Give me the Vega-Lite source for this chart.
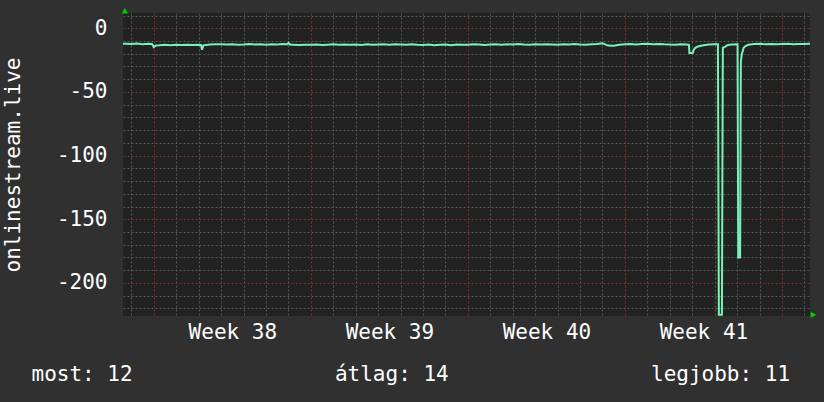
{
  "$schema": "https://vega.github.io/schema/vega-lite/v6.json",
  "width": 687,
  "height": 303,
  "autosize": {"type": "none"},
  "padding": {"left": 123, "top": 13, "right": 14, "bottom": 86},
  "background": "#303030",
  "config": {
    "font": "DejaVu Sans Mono",
    "view": {"fill": "#222222", "stroke": null},
    "axis": {
      "labelFont": "DejaVu Sans Mono",
      "titleFont": "DejaVu Sans Mono",
      "labelColor": "#ffffff",
      "titleColor": "#ffffff",
      "labelFontSize": 21,
      "titleFontSize": 21,
      "titleFontWeight": "normal",
      "ticks": false,
      "domain": false,
      "gridDash": [2, 2],
      "gridWidth": 1,
      "labelOverlap": false,
      "labelFlush": false,
      "tickCount": 1000
    }
  },
  "layer": [
    {
      "data": {
        "values": [
          {"t": "2024-09-14T12:00:00Z", "v": -12.3},
          {"t": "2024-09-14T18:00:00Z", "v": -12.1},
          {"t": "2024-09-15T00:00:00Z", "v": -12.4},
          {"t": "2024-09-15T06:00:00Z", "v": -12.0},
          {"t": "2024-09-15T12:00:00Z", "v": -12.5},
          {"t": "2024-09-15T18:00:00Z", "v": -12.2},
          {"t": "2024-09-15T22:00:00Z", "v": -12.4},
          {"t": "2024-09-16T00:00:00Z", "v": -14.8},
          {"t": "2024-09-16T02:00:00Z", "v": -13.5},
          {"t": "2024-09-16T06:00:00Z", "v": -13.4},
          {"t": "2024-09-16T12:00:00Z", "v": -13.0},
          {"t": "2024-09-16T18:00:00Z", "v": -13.3},
          {"t": "2024-09-17T00:00:00Z", "v": -13.0},
          {"t": "2024-09-17T06:00:00Z", "v": -13.2},
          {"t": "2024-09-17T12:00:00Z", "v": -12.9},
          {"t": "2024-09-17T18:00:00Z", "v": -13.1},
          {"t": "2024-09-18T00:00:00Z", "v": -13.0},
          {"t": "2024-09-18T02:30:00Z", "v": -13.1},
          {"t": "2024-09-18T03:30:00Z", "v": -16.9},
          {"t": "2024-09-18T05:00:00Z", "v": -13.4},
          {"t": "2024-09-18T12:00:00Z", "v": -12.8},
          {"t": "2024-09-18T18:00:00Z", "v": -12.6},
          {"t": "2024-09-19T00:00:00Z", "v": -12.6},
          {"t": "2024-09-19T06:00:00Z", "v": -12.8},
          {"t": "2024-09-19T12:00:00Z", "v": -12.5},
          {"t": "2024-09-19T18:00:00Z", "v": -12.9},
          {"t": "2024-09-20T00:00:00Z", "v": -12.7},
          {"t": "2024-09-20T06:00:00Z", "v": -12.4},
          {"t": "2024-09-20T12:00:00Z", "v": -12.8},
          {"t": "2024-09-20T18:00:00Z", "v": -12.6},
          {"t": "2024-09-21T00:00:00Z", "v": -12.9},
          {"t": "2024-09-21T06:00:00Z", "v": -12.6},
          {"t": "2024-09-21T12:00:00Z", "v": -12.7},
          {"t": "2024-09-21T18:00:00Z", "v": -12.4},
          {"t": "2024-09-21T23:00:00Z", "v": -12.5},
          {"t": "2024-09-22T00:00:00Z", "v": -11.4},
          {"t": "2024-09-22T02:00:00Z", "v": -12.9},
          {"t": "2024-09-22T06:00:00Z", "v": -13.0},
          {"t": "2024-09-22T12:00:00Z", "v": -13.1},
          {"t": "2024-09-22T18:00:00Z", "v": -12.9},
          {"t": "2024-09-23T00:00:00Z", "v": -13.0},
          {"t": "2024-09-23T06:00:00Z", "v": -12.8},
          {"t": "2024-09-23T12:00:00Z", "v": -13.2},
          {"t": "2024-09-23T18:00:00Z", "v": -12.9},
          {"t": "2024-09-24T00:00:00Z", "v": -12.6},
          {"t": "2024-09-24T06:00:00Z", "v": -12.9},
          {"t": "2024-09-24T12:00:00Z", "v": -12.7},
          {"t": "2024-09-24T18:00:00Z", "v": -13.0},
          {"t": "2024-09-25T00:00:00Z", "v": -12.8},
          {"t": "2024-09-25T06:00:00Z", "v": -13.1},
          {"t": "2024-09-25T12:00:00Z", "v": -12.6},
          {"t": "2024-09-25T18:00:00Z", "v": -12.9},
          {"t": "2024-09-26T00:00:00Z", "v": -12.7},
          {"t": "2024-09-26T06:00:00Z", "v": -12.5},
          {"t": "2024-09-26T12:00:00Z", "v": -12.9},
          {"t": "2024-09-26T18:00:00Z", "v": -12.6},
          {"t": "2024-09-27T00:00:00Z", "v": -12.8},
          {"t": "2024-09-27T06:00:00Z", "v": -13.0},
          {"t": "2024-09-27T12:00:00Z", "v": -12.6},
          {"t": "2024-09-27T18:00:00Z", "v": -12.9},
          {"t": "2024-09-28T00:00:00Z", "v": -13.1},
          {"t": "2024-09-28T06:00:00Z", "v": -12.8},
          {"t": "2024-09-28T12:00:00Z", "v": -13.3},
          {"t": "2024-09-28T18:00:00Z", "v": -12.9},
          {"t": "2024-09-29T00:00:00Z", "v": -12.7},
          {"t": "2024-09-29T06:00:00Z", "v": -13.4},
          {"t": "2024-09-29T12:00:00Z", "v": -12.8},
          {"t": "2024-09-29T18:00:00Z", "v": -13.0},
          {"t": "2024-09-30T00:00:00Z", "v": -12.9},
          {"t": "2024-09-30T06:00:00Z", "v": -12.6},
          {"t": "2024-09-30T12:00:00Z", "v": -12.8},
          {"t": "2024-09-30T18:00:00Z", "v": -13.1},
          {"t": "2024-10-01T00:00:00Z", "v": -12.7},
          {"t": "2024-10-01T06:00:00Z", "v": -12.5},
          {"t": "2024-10-01T12:00:00Z", "v": -12.9},
          {"t": "2024-10-01T18:00:00Z", "v": -12.6},
          {"t": "2024-10-02T00:00:00Z", "v": -12.8},
          {"t": "2024-10-02T06:00:00Z", "v": -12.4},
          {"t": "2024-10-02T12:00:00Z", "v": -12.7},
          {"t": "2024-10-02T18:00:00Z", "v": -12.9},
          {"t": "2024-10-03T00:00:00Z", "v": -12.6},
          {"t": "2024-10-03T06:00:00Z", "v": -12.8},
          {"t": "2024-10-03T12:00:00Z", "v": -12.5},
          {"t": "2024-10-03T18:00:00Z", "v": -12.7},
          {"t": "2024-10-04T00:00:00Z", "v": -12.9},
          {"t": "2024-10-04T06:00:00Z", "v": -12.6},
          {"t": "2024-10-04T12:00:00Z", "v": -12.8},
          {"t": "2024-10-04T18:00:00Z", "v": -12.4},
          {"t": "2024-10-05T00:00:00Z", "v": -12.7},
          {"t": "2024-10-05T06:00:00Z", "v": -12.9},
          {"t": "2024-10-05T12:00:00Z", "v": -12.5},
          {"t": "2024-10-05T18:00:00Z", "v": -12.3},
          {"t": "2024-10-06T00:00:00Z", "v": -11.8},
          {"t": "2024-10-06T06:00:00Z", "v": -13.6},
          {"t": "2024-10-06T12:00:00Z", "v": -13.7},
          {"t": "2024-10-06T18:00:00Z", "v": -13.0},
          {"t": "2024-10-07T00:00:00Z", "v": -12.6},
          {"t": "2024-10-07T06:00:00Z", "v": -12.4},
          {"t": "2024-10-07T12:00:00Z", "v": -12.7},
          {"t": "2024-10-07T18:00:00Z", "v": -12.3},
          {"t": "2024-10-08T00:00:00Z", "v": -12.2},
          {"t": "2024-10-08T06:00:00Z", "v": -12.5},
          {"t": "2024-10-08T12:00:00Z", "v": -12.3},
          {"t": "2024-10-08T18:00:00Z", "v": -12.6},
          {"t": "2024-10-09T00:00:00Z", "v": -12.8},
          {"t": "2024-10-09T06:00:00Z", "v": -12.9},
          {"t": "2024-10-09T12:00:00Z", "v": -12.6},
          {"t": "2024-10-09T18:00:00Z", "v": -12.8},
          {"t": "2024-10-09T20:30:00Z", "v": -13.0},
          {"t": "2024-10-09T21:00:00Z", "v": -19.5},
          {"t": "2024-10-10T00:30:00Z", "v": -19.5},
          {"t": "2024-10-10T01:30:00Z", "v": -17.0},
          {"t": "2024-10-10T03:00:00Z", "v": -15.6},
          {"t": "2024-10-10T06:00:00Z", "v": -14.3},
          {"t": "2024-10-10T12:00:00Z", "v": -13.3},
          {"t": "2024-10-10T18:00:00Z", "v": -12.8},
          {"t": "2024-10-11T00:00:00Z", "v": -12.6},
          {"t": "2024-10-11T03:30:00Z", "v": -12.5},
          {"t": "2024-10-11T04:30:00Z", "v": -225},
          {"t": "2024-10-11T07:45:00Z", "v": -225},
          {"t": "2024-10-11T08:45:00Z", "v": -15.3},
          {"t": "2024-10-11T11:00:00Z", "v": -14.6},
          {"t": "2024-10-11T14:00:00Z", "v": -13.1},
          {"t": "2024-10-11T18:00:00Z", "v": -12.8},
          {"t": "2024-10-12T00:30:00Z", "v": -12.6},
          {"t": "2024-10-12T01:15:00Z", "v": -180},
          {"t": "2024-10-12T03:15:00Z", "v": -180},
          {"t": "2024-10-12T04:00:00Z", "v": -26.3},
          {"t": "2024-10-12T05:00:00Z", "v": -20.5},
          {"t": "2024-10-12T07:00:00Z", "v": -15.3},
          {"t": "2024-10-12T09:00:00Z", "v": -14.0},
          {"t": "2024-10-12T12:00:00Z", "v": -13.0},
          {"t": "2024-10-12T18:00:00Z", "v": -12.4},
          {"t": "2024-10-13T00:00:00Z", "v": -12.2},
          {"t": "2024-10-13T06:00:00Z", "v": -12.5},
          {"t": "2024-10-13T12:00:00Z", "v": -12.3},
          {"t": "2024-10-13T18:00:00Z", "v": -12.6},
          {"t": "2024-10-14T00:00:00Z", "v": -12.4},
          {"t": "2024-10-14T06:00:00Z", "v": -12.2},
          {"t": "2024-10-14T12:00:00Z", "v": -12.5},
          {"t": "2024-10-14T18:00:00Z", "v": -12.3},
          {"t": "2024-10-15T00:00:00Z", "v": -12.4},
          {"t": "2024-10-15T06:00:00Z", "v": -12.2}
        ]
      },
      "mark": {"type": "line", "color": "#77f2bb", "strokeWidth": 2, "clip": true},
      "encoding": {
        "x": {
          "field": "t",
          "type": "temporal",
          "scale": {
            "type": "utc",
            "domain": [
              {"year": 2024, "month": 9, "date": 14, "hours": 15, "utc": true},
              {"year": 2024, "month": 10, "date": 15, "hours": 6, "utc": true}
            ]
          },
          "axis": {
            "tickCount": 1000,
            "values": [
              {"year": 2024, "month": 9, "date": 15, "utc": true},
              {"year": 2024, "month": 9, "date": 16, "utc": true},
              {"year": 2024, "month": 9, "date": 17, "utc": true},
              {"year": 2024, "month": 9, "date": 18, "utc": true},
              {"year": 2024, "month": 9, "date": 19, "utc": true},
              {"year": 2024, "month": 9, "date": 19, "hours": 12, "utc": true},
              {"year": 2024, "month": 9, "date": 20, "utc": true},
              {"year": 2024, "month": 9, "date": 21, "utc": true},
              {"year": 2024, "month": 9, "date": 22, "utc": true},
              {"year": 2024, "month": 9, "date": 23, "utc": true},
              {"year": 2024, "month": 9, "date": 24, "utc": true},
              {"year": 2024, "month": 9, "date": 25, "utc": true},
              {"year": 2024, "month": 9, "date": 26, "utc": true},
              {"year": 2024, "month": 9, "date": 26, "hours": 12, "utc": true},
              {"year": 2024, "month": 9, "date": 27, "utc": true},
              {"year": 2024, "month": 9, "date": 28, "utc": true},
              {"year": 2024, "month": 9, "date": 29, "utc": true},
              {"year": 2024, "month": 9, "date": 30, "utc": true},
              {"year": 2024, "month": 10, "date": 1, "utc": true},
              {"year": 2024, "month": 10, "date": 2, "utc": true},
              {"year": 2024, "month": 10, "date": 3, "utc": true},
              {"year": 2024, "month": 10, "date": 3, "hours": 12, "utc": true},
              {"year": 2024, "month": 10, "date": 4, "utc": true},
              {"year": 2024, "month": 10, "date": 5, "utc": true},
              {"year": 2024, "month": 10, "date": 6, "utc": true},
              {"year": 2024, "month": 10, "date": 7, "utc": true},
              {"year": 2024, "month": 10, "date": 8, "utc": true},
              {"year": 2024, "month": 10, "date": 9, "utc": true},
              {"year": 2024, "month": 10, "date": 10, "utc": true},
              {"year": 2024, "month": 10, "date": 10, "hours": 12, "utc": true},
              {"year": 2024, "month": 10, "date": 11, "utc": true},
              {"year": 2024, "month": 10, "date": 12, "utc": true},
              {"year": 2024, "month": 10, "date": 13, "utc": true},
              {"year": 2024, "month": 10, "date": 14, "utc": true},
              {"year": 2024, "month": 10, "date": 15, "utc": true}
            ],
            "labelExpr": "utchours(datum.value) === 12 ? 'Week ' + utcFormat(datum.value, '%V') : ''",
            "gridColor": {"condition": {"test": "utcday(datum.value) === 1 && utchours(datum.value) === 0", "value": "#7e2f2f"}, "value": "#575757"},
            "gridOpacity": {"condition": {"test": "utchours(datum.value) === 12", "value": 0}, "value": 1},
            "labelPadding": 22,
            "labelBaseline": "alphabetic",
            "title": "most: 12\u00a0\u00a0\u00a0\u00a0\u00a0\u00a0\u00a0\u00a0\u00a0\u00a0\u00a0\u00a0\u00a0\u00a0\u00a0\u00a0átlag: 14\u00a0\u00a0\u00a0\u00a0\u00a0\u00a0\u00a0\u00a0\u00a0\u00a0\u00a0\u00a0\u00a0\u00a0\u00a0\u00a0legjobb: 11",
            "titleX": -92,
            "titleY": 64,
            "titleAlign": "left",
            "titleBaseline": "alphabetic"
          }
        },
        "y": {
          "field": "v",
          "type": "quantitative",
          "scale": {"domain": [-226, 12], "nice": false, "zero": false},
          "axis": {
            "tickCount": 1000,
            "values": [-220, -210, -200, -190, -180, -170, -160, -150, -140, -130, -120, -110, -100, -90, -80, -70, -60, -50, -40, -30, -20, -10, 0, 10],
            "labelExpr": "datum.value % 50 === 0 ? '' + datum.value : ''",
            "gridColor": {"condition": {"test": "datum.value % 50 === 0", "value": "#7e2f2f"}, "value": "#575757"},
            "labelPadding": 16,
            "labelBaseline": "middle",
            "title": "onlinestream.live",
            "titleX": -104,
            "titleBaseline": "alphabetic"
          }
        }
      }
    },
    {
      "data": {"values": [{}]},
      "mark": {"type": "point", "shape": "triangle-up", "filled": true, "size": 40, "color": "#00d000", "opacity": 1},
      "encoding": {
        "x": {"datum": {"year": 2024, "month": 9, "date": 14, "hours": 17, "utc": true}, "type": "temporal"},
        "y": {"datum": 13.7, "type": "quantitative"}
      }
    },
    {
      "data": {"values": [{}]},
      "mark": {"type": "point", "shape": "triangle-right", "filled": true, "size": 40, "color": "#00d000", "opacity": 1},
      "encoding": {
        "x": {"datum": {"year": 2024, "month": 10, "date": 15, "hours": 9, "minutes": 40, "utc": true}, "type": "temporal"},
        "y": {"datum": -225.1, "type": "quantitative"}
      }
    }
  ]
}
